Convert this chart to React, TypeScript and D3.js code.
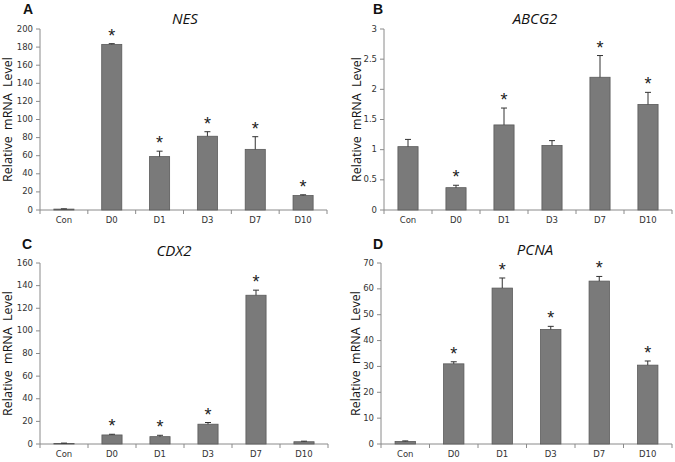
import React from "react";
import * as d3 from "d3";

const categories = ["Con", "D0", "D1", "D3", "D7", "D10"];

const nesValues = [1, 183, 59, 81.5, 67, 16];
const nesErrors = [0.3, 0.8, 6, 5, 14, 0.8];
const nesStars = [false, true, true, true, true, true];
const nesTicks = [0, 20, 40, 60, 80, 100, 120, 140, 160, 180, 200];

const abcValues = [1.05, 0.37, 1.41, 1.07, 2.2, 1.75];
const abcErrors = [0.12, 0.04, 0.28, 0.08, 0.36, 0.2];
const abcStars = [false, true, true, false, true, true];
const abcTicks = [0, 0.5, 1, 1.5, 2, 2.5, 3];

const cdxValues = [0.5, 8, 6.5, 17.5, 131.5, 2];
const cdxErrors = [0.3, 0.6, 1.2, 1.5, 4.5, 0.5];
const cdxStars = [false, true, true, true, true, false];
const cdxTicks = [0, 20, 40, 60, 80, 100, 120, 140, 160];

const pcnaValues = [1, 31, 60.3, 44.3, 63, 30.5];
const pcnaErrors = [0.2, 0.8, 3.9, 1.2, 1.8, 1.6];
const pcnaStars = [false, true, true, true, true, true];
const pcnaTicks = [0, 10, 20, 30, 40, 50, 60, 70];

type PanelProps = {
  letter: string;
  title: string;
  values: number[];
  errors: number[];
  stars: boolean[];
  ticks: number[];
  x0: number;
  x1: number;
  y0: number;
  y1: number;
  letterX: number;
  letterY: number;
  titleX: number;
  titleY: number;
  labelX: number;
};

const AXIS = "#8a8a8a";
const TEXT = "#333";

function Panel(p: PanelProps) {
  const maxT = p.ticks[p.ticks.length - 1];
  const y = d3.scaleLinear().domain([0, maxT]).range([p.y0, p.y1]);
  const x = d3.scaleBand<string>().domain(categories).range([p.x0, p.x1]).paddingInner(0.58).paddingOuter(0.29);
  const band = (p.x1 - p.x0) / categories.length;
  const bounds = d3.range(categories.length + 1).map((i) => p.x0 + i * band);
  const fmt = (v: number) => String(v);
  return (
    <g>
      <text x={p.letterX} y={p.letterY} fontFamily="Liberation Sans, Arial, sans-serif" fontWeight="bold" fontSize={14} fill="#111" textAnchor="middle">{p.letter}</text>
      <text x={p.titleX} y={p.titleY} fontFamily="Open Sans, Liberation Sans, sans-serif" fontStyle="italic" fontSize={15} fill="#111" textAnchor="middle" dominantBaseline="middle">{p.title}</text>
      <text transform={`translate(${p.labelX},${(p.y0 + p.y1) / 2}) rotate(-90)`} fontFamily="Open Sans, Liberation Sans, sans-serif" fontSize={12.5} fill="#111" textAnchor="middle" dominantBaseline="middle" wordSpacing={3}>Relative mRNA Level</text>
      {p.ticks.map((t) => (
        <g key={t}>
          <line x1={p.x0 - 4} x2={p.x0} y1={y(t)} y2={y(t)} stroke={AXIS} />
          <text x={p.x0 - 7} y={y(t)} fontFamily="DejaVu Sans, sans-serif" fontSize={8.5} fill={TEXT} textAnchor="end" dominantBaseline="middle">{fmt(t)}</text>
        </g>
      ))}
      <line x1={p.x0} x2={p.x0} y1={p.y0} y2={p.y1} stroke={AXIS} />
      <line x1={p.x0} x2={p.x1} y1={p.y0} y2={p.y0} stroke={AXIS} />
      {bounds.map((bx, i) => (
        <line key={i} x1={bx} x2={bx} y1={p.y0} y2={p.y0 + 4} stroke={AXIS} />
      ))}
      {categories.map((c, i) => {
        const bx = x(c)!;
        const bw = x.bandwidth();
        const cx = bx + bw / 2;
        const top = y(p.values[i]);
        const et = y(p.values[i] + p.errors[i]);
        return (
          <g key={c}>
            <rect x={bx} y={top} width={bw} height={p.y0 - top} fill="#7a7a7a" stroke="#5a5a5a" strokeWidth={0.8} />
            <line x1={cx} x2={cx} y1={top} y2={et} stroke="#333" strokeWidth={1} />
            <line x1={cx - 3} x2={cx + 3} y1={et} y2={et} stroke="#333" strokeWidth={1} />
            {p.stars[i] && (
              <text x={cx} y={et - 2} fontFamily="Liberation Sans, Arial, sans-serif" fontSize={18} fill="#222" textAnchor="middle">*</text>
            )}
            <text x={cx} y={p.y0 + 13} fontFamily="DejaVu Sans, sans-serif" fontSize={8.5} fill={TEXT} textAnchor="middle">{c}</text>
          </g>
        );
      })}
    </g>
  );
}

export default function App() {
  return (
    <svg width={675} height={462} style={{ position: "absolute", left: 0, top: 0, background: "#fff" }}>
      <rect width={675} height={462} fill="#fff" />
      <Panel letter="A" title="NES" values={nesValues} errors={nesErrors} stars={nesStars} ticks={nesTicks}
        x0={40} x1={327} y0={210} y1={29} letterX={28} letterY={14} titleX={185} titleY={20} labelX={9} />
      <Panel letter="B" title="ABCG2" values={abcValues} errors={abcErrors} stars={abcStars} ticks={abcTicks}
        x0={384} x1={672} y0={210} y1={29} letterX={378} letterY={14} titleX={535} titleY={20} labelX={358} />
      <Panel letter="C" title="CDX2" values={cdxValues} errors={cdxErrors} stars={cdxStars} ticks={cdxTicks}
        x0={40} x1={328} y0={444} y1={263} letterX={27} letterY={249} titleX={174} titleY={252} labelX={9} />
      <Panel letter="D" title="PCNA" values={pcnaValues} errors={pcnaErrors} stars={pcnaStars} ticks={pcnaTicks}
        x0={381} x1={672} y0={444} y1={263} letterX={378} letterY={249} titleX={535} titleY={251} labelX={357} />
    </svg>
  );
}
